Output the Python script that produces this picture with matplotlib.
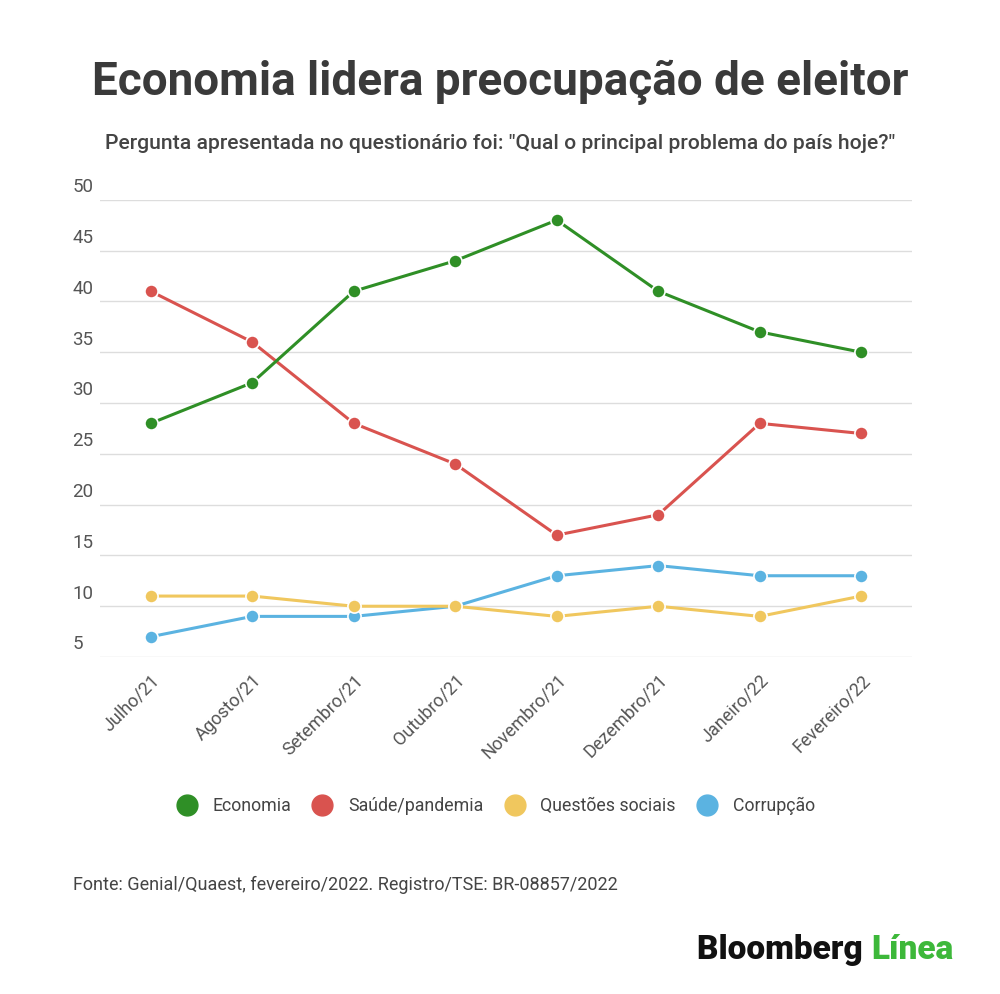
import matplotlib
matplotlib.use("Agg")
import matplotlib.pyplot as plt
from matplotlib.lines import Line2D

plt.rcParams['font.family'] = ['Roboto', 'DejaVu Sans']

# data
months = ['Julho/21', 'Agosto/21', 'Setembro/21', 'Outubro/21',
          'Novembro/21', 'Dezembro/21', 'Janeiro/22', 'Fevereiro/22']
economia = [28, 32, 41, 44, 48, 41, 37, 35]
saude = [41, 36, 28, 24, 17, 19, 28, 27]
sociais = [11, 11, 10, 10, 9, 10, 9, 11]
corrupcao = [7, 9, 9, 10, 13, 14, 13, 13]
series_names = ['Economia', 'Saúde/pandemia', 'Questões sociais', 'Corrupção']
colors = ['#2f8f26', '#d9534f', '#f0c75e', '#5bb3e1']
yticks = [5, 10, 15, 20, 25, 30, 35, 40, 45, 50]

fig = plt.figure(figsize=(10, 9.94), dpi=100)
ax = fig.add_axes([0.10, 0.339, 0.812, 0.460])

x = list(range(len(months)))
# draw in back-to-front order so green stays on top
for vals, c in zip([corrupcao, sociais, saude, economia], colors[::-1]):
    ax.plot(x, vals, color=c, lw=2.2, marker='o', markersize=9.5,
            markeredgecolor='white', markeredgewidth=1.2, solid_capstyle='round')

ax.set_xlim(-0.5, 7.5)
ax.set_ylim(5, 50)
ax.set_yticks(yticks)
ax.yaxis.grid(True, color='#dddddd', lw=1)
ax.set_axisbelow(True)
ax.tick_params(axis='y', length=0, labelleft=False)
# numbers sit just above their gridline
for t in yticks:
    ax.text(-0.034, t + 0.35, str(t), transform=ax.get_yaxis_transform(),
            ha='left', va='bottom', fontsize=13.5, color='#555555')

ax.set_xticks(x)
ax.set_xticklabels(months, rotation=45, ha='right', rotation_mode='anchor',
                   fontsize=13, color='#555555')
ax.tick_params(axis='x', length=0, pad=10)
for s in ax.spines.values():
    s.set_visible(False)

fig.text(0.5, 0.917, 'Economia lidera preocupação de eleitor', ha='center', va='center',
         fontsize=33, fontweight='bold', color='#3a3a3a')
fig.text(0.5, 0.856, 'Pergunta apresentada no questionário foi: "Qual o principal problema do país hoje?"',
         ha='center', va='center', fontsize=15.2, fontweight='medium', color='#444444')

handles = [Line2D([], [], ls='', marker='o', markersize=15, color=c) for c in colors]
fig.legend(handles, series_names, loc='center', bbox_to_anchor=(0.492, 0.189), ncol=4,
           frameon=False, fontsize=12.8, handletextpad=0.45, columnspacing=0.75,
           labelcolor='#444444')

fig.text(0.073, 0.110, 'Fonte: Genial/Quaest, fevereiro/2022. Registro/TSE: BR-08857/2022',
         ha='left', va='center', fontsize=13, color='#444444')

logo = fig.text(0.697, 0.044, 'Bloomberg ', ha='left', va='center', fontsize=24,
                fontweight='black', color='#111111')
fig.canvas.draw()
bb = logo.get_window_extent()
fig.text(bb.x1 / fig.bbox.width, 0.044, 'Línea', ha='left', va='center', fontsize=24,
         fontweight='black', color='#3db83a')

fig.savefig('out.png', dpi=100, facecolor='white')
